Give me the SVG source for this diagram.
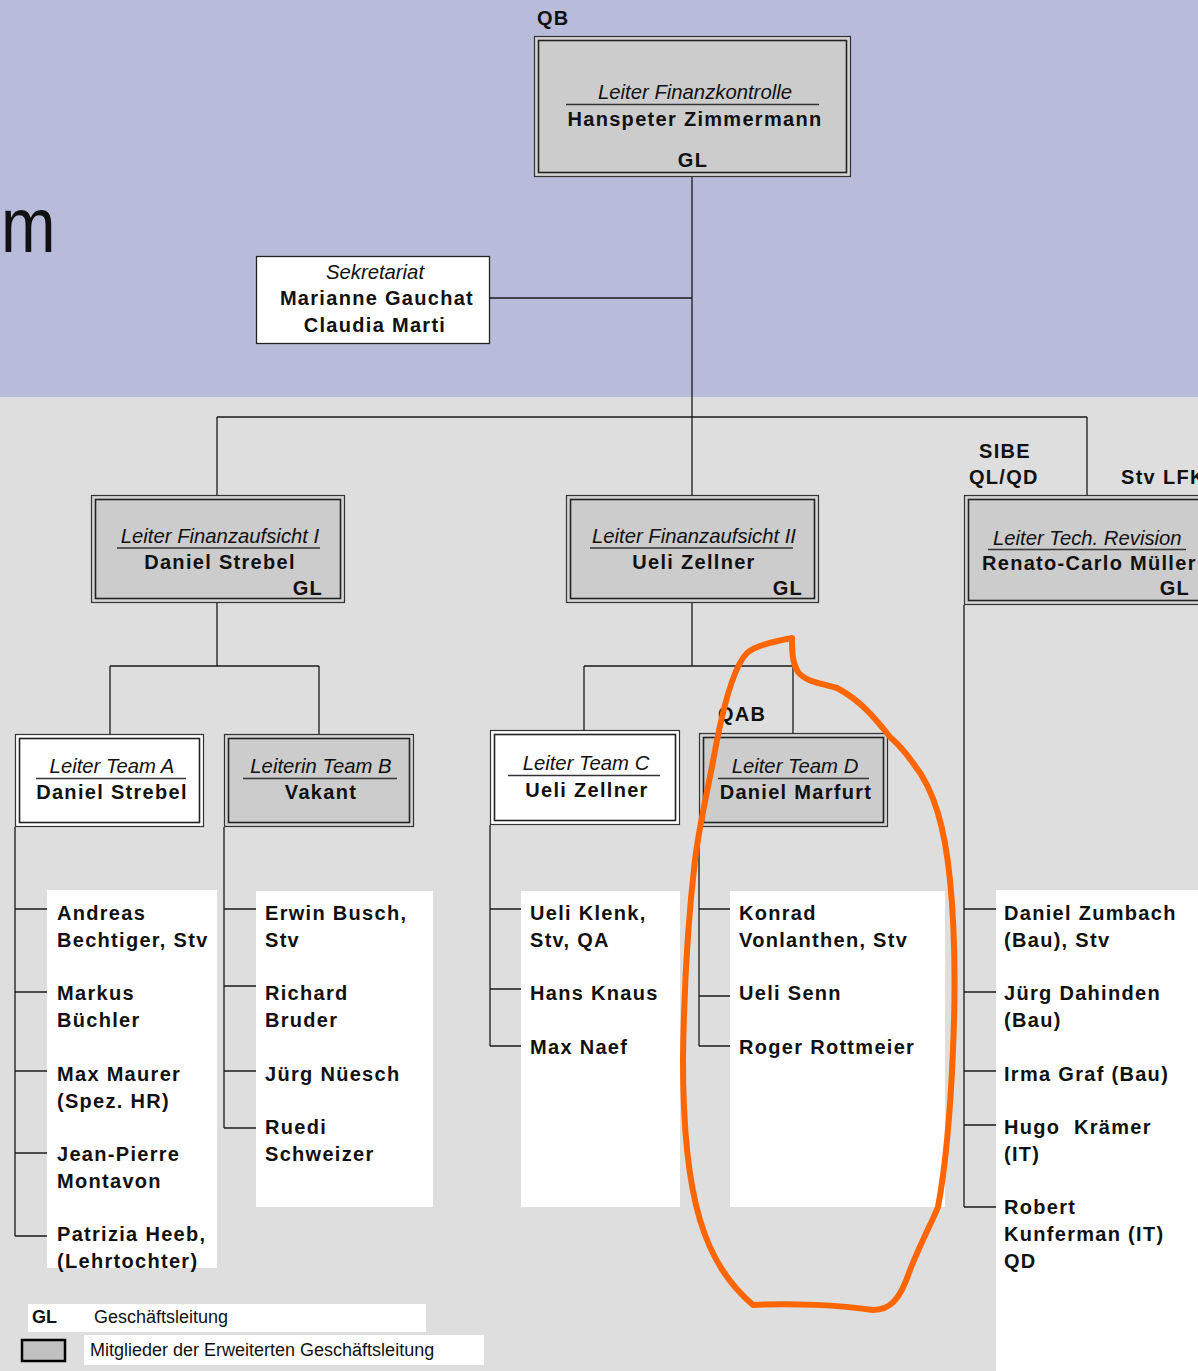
<svg xmlns="http://www.w3.org/2000/svg" width="1198" height="1371" viewBox="0 0 1198 1371">
<style>
.t{font-family:"Liberation Sans",Arial,sans-serif;fill:#111}
.b{font-weight:bold;font-size:20px;letter-spacing:1.3px}
.i{font-style:italic;font-size:20.3px}
.c{text-anchor:middle}
.e{text-anchor:end}
.ln{stroke:#1a1a1a;stroke-width:1.3;fill:none}
.ul{stroke:#333;stroke-width:1.5}
.og{fill:#d4d4d4;stroke:#333;stroke-width:1.2}
.ig{fill:#cccccc;stroke:#222;stroke-width:1.6}
.ow{fill:#fff;stroke:#333;stroke-width:1.2}
.iw{fill:#fff;stroke:#222;stroke-width:1.6}
.pn{fill:#fff}
.leg{font-size:18px}
</style>
<rect x="0" y="0" width="1198" height="397" fill="#b8bcda"/>
<rect x="0" y="397" width="1198" height="974" fill="#dedede"/>
<text class="t" transform="translate(1,252) scale(0.85,1)" font-size="77">m</text>

<g id="connectors">
<path class="ln" d="M692,177V495M490,298H692M217,417H1087M217,417V495M1087,417V495"/>
<path class="ln" d="M217,603V666M110,666H319M110,666V734M319,666V734"/>
<path class="ln" d="M692,603V666M584,666H793M584,666V730M793,666V733"/>
<path class="ln" d="M15,827V1236M15,909H47M15,992H47M15,1071H47M15,1153H47M15,1236H47"/>
<path class="ln" d="M224,827V1128M224,909H256M224,986H256M224,1071H256M224,1128H256"/>
<path class="ln" d="M490,825V1046M490,909H521M490,989H521M490,1046H521"/>
<path class="ln" d="M699,827V1046M699,909H730M699,996H730M699,1046H730"/>
<path class="ln" d="M964,605V1207M964,909H996M964,992H996M964,1071H996M964,1125H996M964,1207H996"/>
</g>

<g id="qb">
<text class="t b" x="537" y="25">QB</text>
</g>
<g id="leiter-fk">
<rect class="og" x="534.5" y="36.5" width="316" height="140"/>
<rect class="ig" x="538.5" y="40.5" width="308" height="132"/>
<text class="t i c" x="695" y="99">Leiter Finanzkontrolle</text>
<line class="ul" x1="566" y1="104.5" x2="819" y2="104.5"/>
<text class="t b c" x="695" y="126">Hanspeter Zimmermann</text>
<text class="t b c" x="693" y="167">GL</text>
</g>

<g id="sekretariat">
<rect x="256.5" y="256.5" width="233" height="87" fill="#fff" stroke="#222" stroke-width="1.3"/>
<text class="t i c" x="375" y="279">Sekretariat</text>
<text class="t b c" x="377" y="305">Marianne Gauchat</text>
<text class="t b c" x="375" y="332">Claudia Marti</text>
</g>

<g id="fa1">
<rect class="og" x="91.5" y="495.5" width="253" height="107"/>
<rect class="ig" x="95.5" y="499.5" width="245" height="99"/>
<text class="t i c" x="220" y="543">Leiter Finanzaufsicht I</text>
<line class="ul" x1="117" y1="548" x2="320" y2="548"/>
<text class="t b c" x="220" y="569">Daniel Strebel</text>
<text class="t b e" x="323" y="595">GL</text>
</g>

<g id="fa2">
<rect class="og" x="566.5" y="495.5" width="252" height="107"/>
<rect class="ig" x="570.5" y="499.5" width="244" height="99"/>
<text class="t i c" x="694" y="543">Leiter Finanzaufsicht II</text>
<line class="ul" x1="590" y1="548" x2="793" y2="548"/>
<text class="t b c" x="694" y="569">Ueli Zellner</text>
<text class="t b e" x="803" y="595">GL</text>
</g>

<g id="tech">
<text class="t b c" x="1005" y="458">SIBE</text>
<text class="t b" x="969" y="484">QL/QD</text>
<text class="t b" x="1121" y="484">Stv LFK</text>
<rect class="og" x="964.5" y="495.5" width="250" height="109"/>
<rect class="ig" x="968.5" y="499.5" width="250" height="101"/>
<text class="t i" x="993" y="545">Leiter Tech. Revision</text>
<line class="ul" x1="988" y1="549.5" x2="1186" y2="549.5"/>
<text class="t b" x="982" y="570">Renato-Carlo Müller</text>
<text class="t b e" x="1190" y="595">GL</text>
</g>

<g id="team-a">
<rect class="ow" x="15.5" y="734.5" width="188" height="92"/>
<rect class="iw" x="19.5" y="738.5" width="180" height="84"/>
<text class="t i c" x="112" y="773">Leiter Team A</text>
<line class="ul" x1="36" y1="778.5" x2="186" y2="778.5"/>
<text class="t b c" x="112" y="799">Daniel Strebel</text>
</g>

<g id="team-b">
<rect class="og" x="224.5" y="734.5" width="189" height="92"/>
<rect class="ig" x="228.5" y="738.5" width="181" height="84"/>
<text class="t i c" x="321" y="773">Leiterin Team B</text>
<line class="ul" x1="243" y1="778.5" x2="397" y2="778.5"/>
<text class="t b c" x="321" y="799">Vakant</text>
</g>

<g id="team-c">
<rect class="ow" x="490.5" y="730.5" width="189" height="94"/>
<rect class="iw" x="494.5" y="734.5" width="181" height="86"/>
<text class="t i c" x="586" y="770">Leiter Team C</text>
<line class="ul" x1="508" y1="775.5" x2="660" y2="775.5"/>
<text class="t b c" x="587" y="797">Ueli Zellner</text>
</g>

<g id="team-d">
<text class="t b" x="718" y="721">QAB</text>
<rect class="og" x="699.5" y="733.5" width="188" height="93"/>
<rect class="ig" x="703.5" y="737.5" width="180" height="85"/>
<text class="t i c" x="795" y="773">Leiter Team D</text>
<line class="ul" x1="718" y1="778.5" x2="869" y2="778.5"/>
<text class="t b c" x="796" y="799">Daniel Marfurt</text>
</g>

<g id="list-a">
<rect class="pn" x="47" y="890" width="170" height="378"/>
<text class="t b" x="57" y="920">Andreas</text>
<text class="t b" x="57" y="947">Bechtiger, Stv</text>
<text class="t b" x="57" y="1000">Markus</text>
<text class="t b" x="57" y="1027">Büchler</text>
<text class="t b" x="57" y="1081">Max Maurer</text>
<text class="t b" x="57" y="1108">(Spez. HR)</text>
<text class="t b" x="57" y="1161">Jean-Pierre</text>
<text class="t b" x="57" y="1188">Montavon</text>
<text class="t b" x="57" y="1241">Patrizia Heeb,</text>
<text class="t b" x="57" y="1268">(Lehrtochter)</text>
</g>

<g id="list-b">
<rect class="pn" x="256" y="891" width="177" height="316"/>
<text class="t b" x="265" y="920">Erwin Busch,</text>
<text class="t b" x="265" y="947">Stv</text>
<text class="t b" x="265" y="1000">Richard</text>
<text class="t b" x="265" y="1027">Bruder</text>
<text class="t b" x="265" y="1081">Jürg Nüesch</text>
<text class="t b" x="265" y="1134">Ruedi</text>
<text class="t b" x="265" y="1161">Schweizer</text>
</g>

<g id="list-c">
<rect class="pn" x="521" y="891" width="159" height="316"/>
<text class="t b" x="530" y="920">Ueli Klenk,</text>
<text class="t b" x="530" y="947">Stv, QA</text>
<text class="t b" x="530" y="1000">Hans Knaus</text>
<text class="t b" x="530" y="1054">Max Naef</text>
</g>

<g id="list-d">
<rect class="pn" x="730" y="891" width="215" height="316"/>
<text class="t b" x="739" y="920">Konrad</text>
<text class="t b" x="739" y="947">Vonlanthen, Stv</text>
<text class="t b" x="739" y="1000">Ueli Senn</text>
<text class="t b" x="739" y="1054">Roger Rottmeier</text>
</g>

<g id="list-tech">
<rect class="pn" x="996" y="890" width="202" height="481"/>
<text class="t b" x="1004" y="920">Daniel Zumbach</text>
<text class="t b" x="1004" y="947">(Bau), Stv</text>
<text class="t b" x="1004" y="1000">Jürg Dahinden</text>
<text class="t b" x="1004" y="1027">(Bau)</text>
<text class="t b" x="1004" y="1081">Irma Graf (Bau)</text>
<text class="t b" x="1004" y="1134" xml:space="preserve">Hugo  Krämer</text>
<text class="t b" x="1004" y="1161">(IT)</text>
<text class="t b" x="1004" y="1214">Robert</text>
<text class="t b" x="1004" y="1241">Kunferman (IT)</text>
<text class="t b" x="1004" y="1268">QD</text>
</g>

<g id="legend">
<rect class="pn" x="28" y="1304" width="398" height="28"/>
<text class="t leg" x="32" y="1323" font-weight="bold">GL</text>
<text class="t leg" x="94" y="1323">Geschäftsleitung</text>
<rect x="22" y="1340" width="43" height="21" fill="#c0c0c0" stroke="#000" stroke-width="2.5"/>
<rect class="pn" x="84" y="1335" width="400" height="30"/>
<text class="t leg" x="90" y="1356">Mitglieder der Erweiterten Geschäftsleitung</text>
</g>

<g id="highlight">
<path d="M792,638 C770,642 755,646 747,653 C735,665 725,700 717,740 C708,790 700,820 695,860 C688,920 684,980 683,1060 C683,1130 688,1180 700,1220 C712,1260 730,1285 753,1305 C790,1303 840,1305 873,1310 C890,1310 900,1300 910,1270 C922,1240 933,1220 938,1207 C945,1170 950,1120 953,1050 C956,980 955,930 950,880 C945,830 935,790 913,763 C900,745 893,740 890,737 C875,718 860,700 837,688 C820,683 806,682 798,672 C792,662 792,650 792,638 Z" fill="none" stroke="#ff6600" stroke-width="6" stroke-linejoin="round"/>
</g>
</svg>
